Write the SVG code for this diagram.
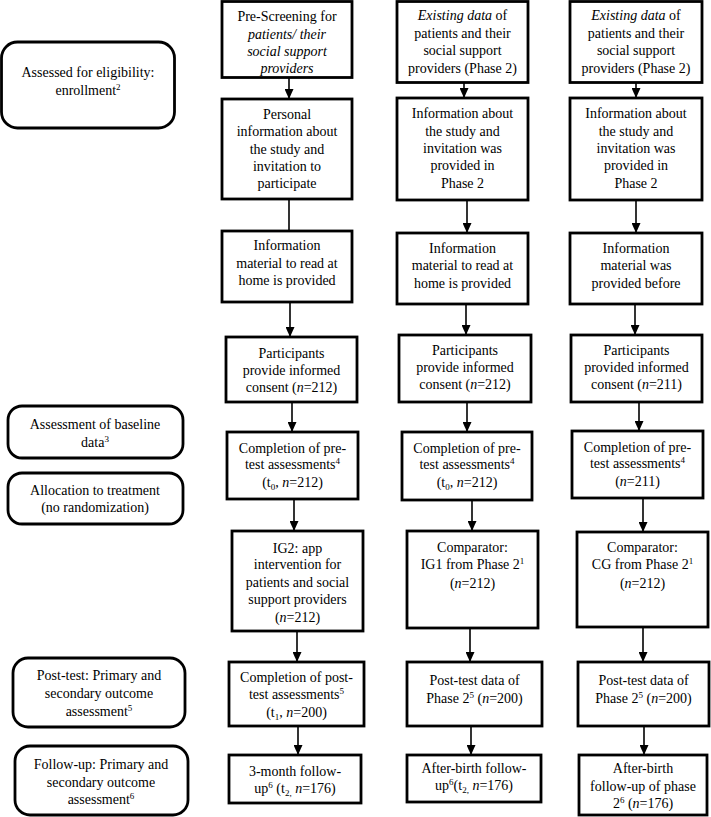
<svg xmlns="http://www.w3.org/2000/svg" width="711" height="817" viewBox="0 0 711 817">
<style>
.box{fill:#fff;stroke:#000;stroke-width:2.8}
.rbox{fill:#fff;stroke:#000;stroke-width:2.8}
text{font-family:"Liberation Serif","Times New Roman",serif;font-size:14px;fill:#000;text-anchor:middle}
.i{font-style:italic}
.sup{font-size:9px}
.conn{stroke:#000;stroke-width:1.6;fill:none}
</style>
<defs>
<marker id="ah" markerUnits="userSpaceOnUse" markerWidth="10" markerHeight="9" refX="10" refY="4.5" orient="auto" viewBox="0 0 10 9">
<path d="M0,0 L10,4.5 L0,9 Z" fill="#000"/>
</marker>
</defs>
<g id="connectors">
<line class="conn" x1="289" y1="77" x2="289" y2="99" marker-end="url(#ah)"/>
<line class="conn" x1="289" y1="199" x2="289" y2="231"/>
<line class="conn" x1="290" y1="302" x2="290" y2="337" marker-end="url(#ah)"/>
<line class="conn" x1="292" y1="402" x2="292" y2="432" marker-end="url(#ah)"/>
<line class="conn" x1="294" y1="499" x2="294" y2="531" marker-end="url(#ah)"/>
<line class="conn" x1="297" y1="631" x2="297" y2="662" marker-end="url(#ah)"/>
<line class="conn" x1="298" y1="726" x2="298" y2="755" marker-end="url(#ah)"/>
<line class="conn" x1="464" y1="83" x2="464" y2="98" marker-end="url(#ah)"/>
<line class="conn" x1="467" y1="200" x2="467" y2="233" marker-end="url(#ah)"/>
<line class="conn" x1="466" y1="304" x2="466" y2="335" marker-end="url(#ah)"/>
<line class="conn" x1="467" y1="402" x2="467" y2="432" marker-end="url(#ah)"/>
<line class="conn" x1="472" y1="500" x2="472" y2="531" marker-end="url(#ah)"/>
<line class="conn" x1="470" y1="628" x2="470" y2="662" marker-end="url(#ah)"/>
<line class="conn" x1="471" y1="726" x2="471" y2="755" marker-end="url(#ah)"/>
<line class="conn" x1="636" y1="83" x2="636" y2="98" marker-end="url(#ah)"/>
<line class="conn" x1="636" y1="200" x2="636" y2="233" marker-end="url(#ah)"/>
<line class="conn" x1="635" y1="304" x2="635" y2="335" marker-end="url(#ah)"/>
<line class="conn" x1="639" y1="402" x2="639" y2="431" marker-end="url(#ah)"/>
<line class="conn" x1="643" y1="498" x2="643" y2="532" marker-end="url(#ah)"/>
<line class="conn" x1="643" y1="627" x2="643" y2="662" marker-end="url(#ah)"/>
<line class="conn" x1="644" y1="726" x2="644" y2="755" marker-end="url(#ah)"/>
</g>
<g id="L1"><rect class="rbox" x="1.5" y="42" width="173" height="86" rx="16"/>
<text x="88" y="77">Assessed for eligibility:</text>
<text x="88" y="95">enrollment<tspan class="sup" dy="-5">2</tspan></text></g>
<g id="L2"><rect class="rbox" x="8" y="406" width="175" height="52" rx="14"/>
<text x="95" y="429">Assessment of baseline</text>
<text x="95" y="447">data<tspan class="sup" dy="-5">3</tspan></text></g>
<g id="L3"><rect class="rbox" x="8" y="473" width="175" height="51" rx="14"/>
<text x="95" y="495">Allocation to treatment</text>
<text x="95" y="512">(no randomization)</text></g>
<g id="L4"><rect class="rbox" x="13" y="658" width="172" height="69" rx="15"/>
<text x="99" y="680">Post-test: Primary and</text>
<text x="99" y="698">secondary outcome</text>
<text x="99" y="716">assessment<tspan class="sup" dy="-5">5</tspan></text></g>
<g id="L5"><rect class="rbox" x="15" y="746" width="173" height="69" rx="15"/>
<text x="101" y="769">Follow-up: Primary and</text>
<text x="101" y="787">secondary outcome</text>
<text x="101" y="804">assessment<tspan class="sup" dy="-5">6</tspan></text></g>

<g id="c1r1"><rect class="box" x="222" y="1.5" width="130" height="76"/>
<text x="287" y="21">Pre-Screening for</text>
<text x="287" y="39" class="i">patients/ their</text>
<text x="287" y="56" class="i">social support</text>
<text x="287" y="73" class="i">providers</text></g>
<g id="c1r2"><rect class="box" x="222" y="99" width="130" height="100"/>
<text x="287" y="119">Personal</text>
<text x="287" y="136">information about</text>
<text x="287" y="154">the study and</text>
<text x="287" y="171">invitation to</text>
<text x="287" y="188">participate</text></g>
<g id="c1r3"><rect class="box" x="222" y="231" width="130" height="71"/>
<text x="287" y="250">Information</text>
<text x="287" y="268">material to read at</text>
<text x="287" y="285">home is provided</text></g>
<g id="c1r4"><rect class="box" x="226" y="337" width="131" height="65"/>
<text x="291.5" y="358">Participants</text>
<text x="291.5" y="375">provide informed</text>
<text x="291.5" y="392">consent (<tspan class="i">n</tspan>=212)</text></g>
<g id="c1r5"><rect class="box" x="227" y="432" width="131" height="67"/>
<text x="292.5" y="453">Completion of pre-</text>
<text x="292.5" y="469">test assessments<tspan class="sup" dy="-5">4</tspan></text>
<text x="292.5" y="487">(t<tspan class="sup" dy="3">0</tspan><tspan dy="-3">, </tspan><tspan class="i">n</tspan>=212)</text></g>
<g id="c1r6"><rect class="box" x="232" y="531" width="131" height="100"/>
<text x="297.5" y="553">IG2: app</text>
<text x="297.5" y="569">intervention for</text>
<text x="297.5" y="587">patients and social</text>
<text x="297.5" y="604">support providers</text>
<text x="297.5" y="622">(<tspan class="i">n</tspan>=212)</text></g>
<g id="c1r7"><rect class="box" x="229" y="662" width="135" height="64"/>
<text x="296.5" y="682">Completion of post-</text>
<text x="296.5" y="699">test assessments<tspan class="sup" dy="-5">5</tspan></text>
<text x="296.5" y="717">(t<tspan class="sup" dy="3">1</tspan><tspan dy="-3">, </tspan><tspan class="i">n</tspan>=200)</text></g>
<g id="c1r8"><rect class="box" x="229" y="755" width="132" height="48"/>
<text x="295" y="776">3-month follow-</text>
<text x="295" y="793">up<tspan class="sup" dy="-5">6</tspan><tspan dy="5"> (t</tspan><tspan class="sup" dy="3">2,</tspan><tspan dy="-3"> </tspan><tspan class="i">n</tspan>=176)</text></g>

<g id="c2r1"><rect class="box" x="397" y="1.5" width="131" height="81"/>
<text x="462.5" y="20"><tspan class="i">Existing data</tspan> of</text>
<text x="462.5" y="38">patients and their</text>
<text x="462.5" y="55">social support</text>
<text x="462.5" y="73">providers (Phase 2)</text></g>
<g id="c2r2"><rect class="box" x="397" y="98" width="131" height="102"/>
<text x="462.5" y="118">Information about</text>
<text x="462.5" y="136">the study and</text>
<text x="462.5" y="153">invitation was</text>
<text x="462.5" y="170">provided in</text>
<text x="462.5" y="188">Phase 2</text></g>
<g id="c2r3"><rect class="box" x="397" y="233" width="131" height="71"/>
<text x="462.5" y="253">Information</text>
<text x="462.5" y="270">material to read at</text>
<text x="462.5" y="288">home is provided</text></g>
<g id="c2r4"><rect class="box" x="399" y="335" width="132" height="67"/>
<text x="465" y="355">Participants</text>
<text x="465" y="372">provide informed</text>
<text x="465" y="389">consent (<tspan class="i">n</tspan>=212)</text></g>
<g id="c2r5"><rect class="box" x="402" y="432" width="130" height="68"/>
<text x="467" y="453">Completion of pre-</text>
<text x="467" y="469">test assessments<tspan class="sup" dy="-5">4</tspan></text>
<text x="467" y="487">(t<tspan class="sup" dy="3">0</tspan><tspan dy="-3">, </tspan><tspan class="i">n</tspan>=212)</text></g>
<g id="c2r6"><rect class="box" x="407" y="531" width="131" height="97"/>
<text x="472.5" y="552">Comparator:</text>
<text x="472.5" y="569">IG1 from Phase 2<tspan class="sup" dy="-5">1</tspan></text>
<text x="472.5" y="588">(<tspan class="i">n</tspan>=212)</text></g>
<g id="c2r7"><rect class="box" x="407" y="662" width="135" height="64"/>
<text x="474.5" y="685">Post-test data of</text>
<text x="474.5" y="703">Phase 2<tspan class="sup" dy="-5">5</tspan><tspan dy="5"> (</tspan><tspan class="i">n</tspan>=200)</text></g>
<g id="c2r8"><rect class="box" x="407" y="755" width="134" height="47"/>
<text x="474" y="773">After-birth follow-</text>
<text x="474" y="790">up<tspan class="sup" dy="-5">6</tspan><tspan dy="5">(t</tspan><tspan class="sup" dy="3">2,</tspan><tspan dy="-3"> </tspan><tspan class="i">n</tspan>=176)</text></g>

<g id="c3r1"><rect class="box" x="570" y="1.5" width="132" height="81"/>
<text x="636" y="20"><tspan class="i">Existing data</tspan> of</text>
<text x="636" y="38">patients and their</text>
<text x="636" y="55">social support</text>
<text x="636" y="73">providers (Phase 2)</text></g>
<g id="c3r2"><rect class="box" x="570" y="98" width="132" height="102"/>
<text x="636" y="118">Information about</text>
<text x="636" y="136">the study and</text>
<text x="636" y="153">invitation was</text>
<text x="636" y="170">provided in</text>
<text x="636" y="188">Phase 2</text></g>
<g id="c3r3"><rect class="box" x="570" y="233" width="132" height="71"/>
<text x="636" y="253">Information</text>
<text x="636" y="270">material was</text>
<text x="636" y="288">provided before</text></g>
<g id="c3r4"><rect class="box" x="571" y="335" width="131" height="67"/>
<text x="636.5" y="355">Participants</text>
<text x="636.5" y="372">provided informed</text>
<text x="636.5" y="389">consent (<tspan class="i">n</tspan>=211)</text></g>
<g id="c3r5"><rect class="box" x="572" y="431" width="131" height="67"/>
<text x="637.5" y="452">Completion of pre-</text>
<text x="637.5" y="468">test assessments<tspan class="sup" dy="-5">4</tspan></text>
<text x="637.5" y="486">(<tspan class="i">n</tspan>=211)</text></g>
<g id="c3r6"><rect class="box" x="577" y="532" width="131" height="95"/>
<text x="642.5" y="552">Comparator:</text>
<text x="642.5" y="569">CG from Phase 2<tspan class="sup" dy="-5">1</tspan></text>
<text x="642.5" y="588">(<tspan class="i">n</tspan>=212)</text></g>
<g id="c3r7"><rect class="box" x="578" y="662" width="131" height="64"/>
<text x="643.5" y="685">Post-test data of</text>
<text x="643.5" y="703">Phase 2<tspan class="sup" dy="-5">5</tspan><tspan dy="5"> (</tspan><tspan class="i">n</tspan>=200)</text></g>
<g id="c3r8"><rect class="box" x="579" y="755" width="128" height="60"/>
<text x="643" y="773">After-birth</text>
<text x="643" y="791">follow-up of phase</text>
<text x="643" y="808">2<tspan class="sup" dy="-5">6</tspan><tspan dy="5"> (</tspan><tspan class="i">n</tspan>=176)</text></g>
</svg>
